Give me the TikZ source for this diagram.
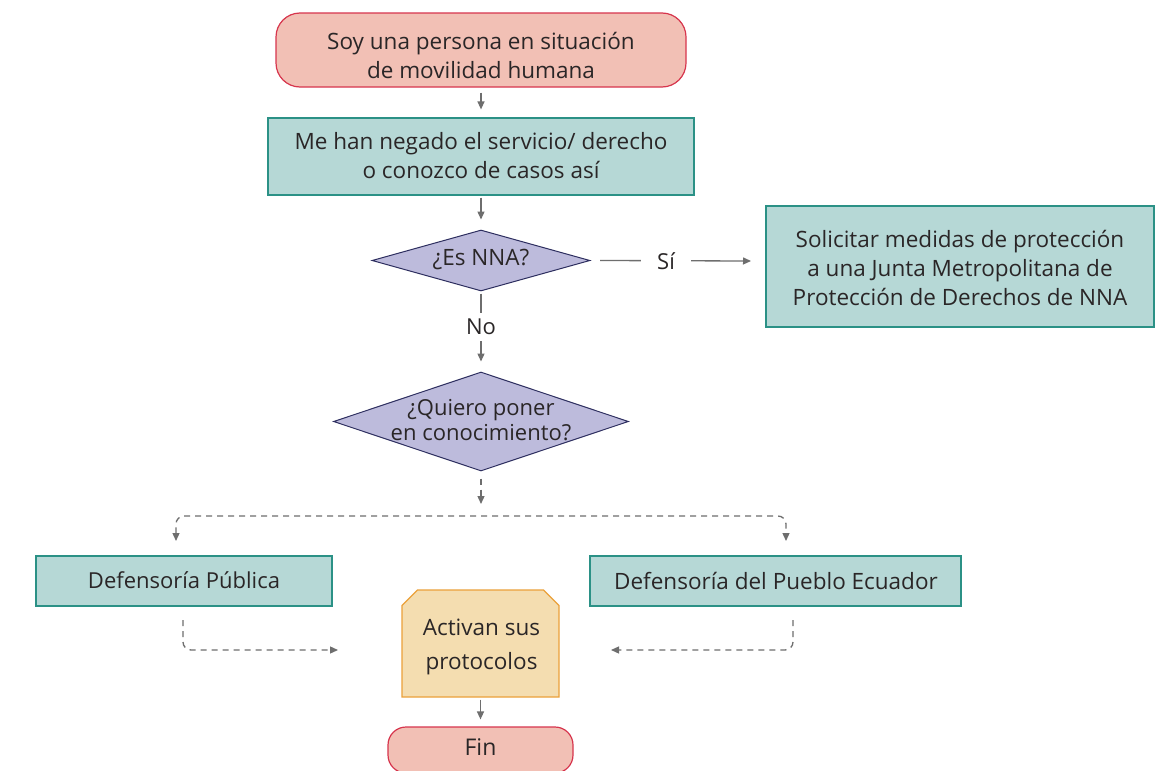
\documentclass[tikz,border=0pt]{standalone}
\usepackage{fontspec}
\setmainfont{Open Sans}
\usetikzlibrary{arrows.meta,shapes.geometric,shapes.misc}
\definecolor{startfill}{HTML}{F2C0B5}
\definecolor{startdraw}{HTML}{D7354D}
\definecolor{tealfill}{HTML}{B6D8D6}
\definecolor{tealdraw}{HTML}{2B9186}
\definecolor{diafill}{HTML}{BDBBDC}
\definecolor{diadraw}{HTML}{2D2E5F}
\definecolor{actfill}{HTML}{F4DDB0}
\definecolor{actdraw}{HTML}{EBA13A}
\definecolor{arrowgray}{HTML}{6E6E6E}
\definecolor{txt}{HTML}{2A2627}
\tikzset{
  x=1pt, y=-1pt,
  every node/.style={text=txt},
  terminal/.style={draw=startdraw, fill=startfill, line width=1.2pt, rounded corners=24pt, inner sep=0pt},
  tealbox/.style={draw=tealdraw, fill=tealfill, line width=1.2pt, inner sep=0pt},
  decision/.style={diamond, draw=diadraw, fill=diafill, line width=1pt, inner sep=0pt},
  actbox/.style={chamfered rectangle, chamfered rectangle corners={north west,north east}, chamfered rectangle xsep=12pt, draw=actdraw, fill=actfill, line width=1.2pt, align=center, inner sep=0pt},
  btext/.style={align=center, inner sep=0pt, font=\fontsize{22.5}{29}\selectfont},
  conn/.style={draw=arrowgray, line width=1.3pt, -{Triangle[length=8pt,width=7pt]}},
  dconn/.style={conn, dashed, dash pattern=on 6pt off 5pt, rounded corners=8pt},
  lab/.style={fill=white, font=\fontsize{22}{25}\selectfont}
}
\begin{document}
\begin{tikzpicture}
\useasboundingbox (0,0) rectangle (1160,771);
\fill[white] (0,0) rectangle (1160,771);

\node[terminal, minimum width=410pt, minimum height=74pt] (start) at (481,50) {};
\node[btext] (startt) at (481,55.5) {Soy una persona en situación\\de movilidad humana};
\node[tealbox, minimum width=426pt, minimum height=77pt] (neg) at (481,156.5) {};
\node[btext] (negt) at (481,155.5) {Me han negado el servicio/ derecho\\o conozco de casos así};
\node[decision, minimum width=218pt, minimum height=61pt] (d1) at (481,260.5) {};
\node[btext] (d1t) at (481,259.5) {¿Es NNA?};
\node[tealbox, minimum width=388pt, minimum height=121pt] (junta) at (960,266.5) {};
\node[btext] (juntat) at (960,267.5) {Solicitar medidas de protección\\a una Junta Metropolitana de\\Protección de Derechos de NNA};
\node[decision, minimum width=295pt, minimum height=99pt] (d2) at (481,421.5) {};
\node[btext, font=\fontsize{22}{25}\selectfont] (d2t) at (481,420) {¿Quiero poner\\en conocimiento?};
\node[tealbox, minimum width=296pt, minimum height=50pt] (pub) at (184,581) {};
\node[btext, font=\fontsize{22}{25}\selectfont] (pubt) at (184,580.5) {Defensoría Pública};
\node[tealbox, minimum width=371pt, minimum height=50pt] (pueblo) at (775.5,581) {};
\node[btext, font=\fontsize{22.5}{25}\selectfont] (pueblot) at (776,580.5) {Defensoría del Pueblo Ecuador};
\node[actbox, minimum width=157pt, minimum height=107pt, font=\fontsize{22.5}{34}\selectfont] (act) at (480.5,643.5) {\phantom{Activan sus}\\\phantom{protocolos}};
\node[btext, font=\fontsize{22.5}{34}\selectfont] (actt) at (481.5,646.5) {Activan sus\\protocolos};
\node[terminal, rounded corners=18pt, minimum width=185pt, minimum height=46pt] (fin) at (480.5,750) {};
\node[btext, font=\fontsize{23}{25}\selectfont] (fint) at (480.5,747.5) {Fin};

\coordinate (sitgt) at (751,261);
\coordinate (bl) at (176,541);
\coordinate (br) at (786,541);
\coordinate (pl) at (183,620);
\coordinate (pr) at (793,620);
\coordinate (al) at (338,650);
\coordinate (ar) at (611,650);

\draw[conn] ([yshift=-5pt]start.south) -- ([yshift=8pt]neg.north);
\draw[conn] ([yshift=-2pt]neg.south) -- ([yshift=10pt]d1.north);
\draw[conn] (d1.east -| 600,0) -- node[lab, pos=0.437, inner xsep=16pt, inner ysep=3pt] {Sí} (sitgt);
\draw[conn] ([yshift=-2pt]d1.south) -- node[lab, pos=0.49, inner xsep=3pt, inner ysep=6pt] {No} ([yshift=10pt]d2.north);
\draw[dconn] ([yshift=-7pt]d2.south) -- (481,504);
\draw[dconn, {Triangle[length=8pt,width=7pt]}-{Triangle[length=8pt,width=7pt]}] (bl) -- (176,516) -- (786,516) -- (br);
\draw[dconn] (pl) -- (183,650) -- (al);
\draw[dconn] (pr) -- (793,650) -- (ar);
\draw[conn] ([yshift=-2pt]act.south) -- ([yshift=7pt]fin.north);
\end{tikzpicture}
\end{document}
